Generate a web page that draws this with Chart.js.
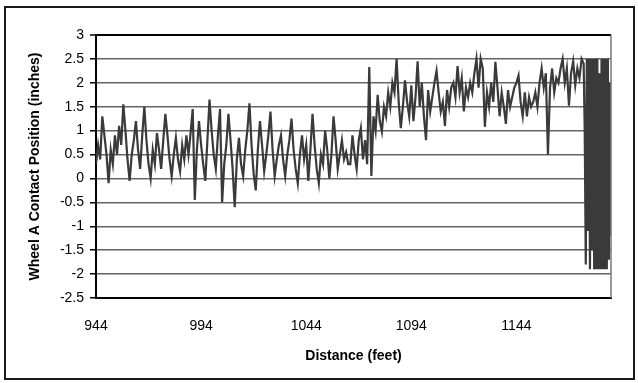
<!DOCTYPE html>
<html>
<head>
<meta charset="utf-8">
<title>Wheel A Contact Position</title>
<script src="https://cdn.jsdelivr.net/npm/chart.js@4"></script>
<style>
    html, body { margin: 0; padding: 0; background: #fff; }
    #wrap { position: relative; width: 638px; height: 383px; }
    #frame { position: absolute; left: 4px; top: 6px; width: 627px; height: 370px; border: 2px solid #1a1a1a; pointer-events: none; }
</style>
</head>
<body>
<div id="wrap">
    <canvas id="contactChart"></canvas>
    <div id="frame"></div>
</div>
<script>
// Distancia (pies) - pasos de 1 ft y luego 0.5 ft en la zona final
const distanceFt = [
    944, 945, 946, 947, 948, 949, 950, 951, 952, 953,
    954, 955, 956, 957, 958, 959, 960, 961, 962, 963,
    964, 965, 966, 967, 968, 969, 970, 971, 972, 973,
    974, 975, 976, 977, 978, 979, 980, 981, 982, 983,
    984, 985, 986, 987, 988, 989, 990, 991, 992, 993,
    994, 995, 996, 997, 998, 999, 1000, 1001, 1002, 1003,
    1004, 1005, 1006, 1007, 1008, 1009, 1010, 1011, 1012, 1013,
    1014, 1015, 1016, 1017, 1018, 1019, 1020, 1021, 1022, 1023,
    1024, 1025, 1026, 1027, 1028, 1029, 1030, 1031, 1032, 1033,
    1034, 1035, 1036, 1037, 1038, 1039, 1040, 1041, 1042, 1043,
    1044, 1045, 1046, 1047, 1048, 1049, 1050, 1051, 1052, 1053,
    1054, 1055, 1056, 1057, 1058, 1059, 1060, 1061, 1062, 1063,
    1064, 1065, 1066, 1067, 1068, 1069, 1070, 1071, 1072, 1073,
    1074, 1075, 1076, 1077, 1078, 1079, 1080, 1081, 1082, 1083,
    1084, 1085, 1086, 1087, 1088, 1089, 1090, 1091, 1092, 1093,
    1094, 1095, 1096, 1097, 1098, 1099, 1100, 1101, 1102, 1103,
    1104, 1105, 1106, 1107, 1108, 1109, 1110, 1111, 1112, 1113,
    1114, 1115, 1116, 1117, 1118, 1119, 1120, 1121, 1122, 1123,
    1124, 1125, 1126, 1127, 1128, 1129, 1130, 1131, 1132, 1133,
    1134, 1135, 1136, 1137, 1138, 1139, 1140, 1141, 1142, 1143,
    1144, 1145, 1146, 1147, 1148, 1149, 1150, 1151, 1152, 1153,
    1154, 1155, 1156, 1157, 1158, 1159, 1160, 1161, 1162, 1163,
    1164, 1165, 1166, 1167, 1168, 1169, 1170, 1171, 1172, 1173,
    1174, 1175, 1176,
    1176.5, 1177, 1177.5, 1178, 1178.5, 1179, 1179.5, 1180, 1180.5, 1181,
    1181.5, 1182, 1182.5, 1183, 1183.5, 1184, 1184.5, 1185, 1185.5, 1186,
    1186.5, 1187, 1187.5, 1188, 1188.5, 1189
];

// Posición de contacto de la rueda A (pulgadas)
const contactPos = [
    0.3, 0.7, 0.4, 1.3, 0.9, 0.5, -0.1, 0.6, 0.3, 0.9,
    0.5, 1.1, 0.7, 1.55, 1.0, 0.4, -0.05, 0.5, 0.8, 1.2,
    0.6, 0.2, 0.9, 1.5, 0.8, 0.3, 0.0, 0.6, 0.3, 0.95,
    0.6, 0.2, 0.8, 1.35, 0.9, 0.4, 0.05, 0.5, 0.85, 0.4,
    0.15, 0.7, 0.4, 0.9, 0.5, 0.95, 1.45, -0.45, 0.6, 1.2,
    0.7, 0.3, -0.05, 0.8, 1.65, 1.0, 0.5, 0.2, 0.9, 1.45,
    -0.5, 0.3, 0.7, 1.35, 0.8, 0.2, -0.6, 0.4, 0.85, 0.3,
    0.05, 0.6, 1.0, 1.57, 0.7, 0.1, -0.25, 0.6, 1.2, 0.7,
    0.15, 0.5, 0.9, 1.4, 0.6, 0.05, 0.4, 0.7, 0.9, 0.4,
    0.05, 0.5, 0.8, 1.25, 0.6, 0.2, -0.1, 0.5, 0.9, 0.4,
    0.7, -0.05, 0.6, 1.35, 0.7, 0.2, -0.1, 0.5, 0.3, 1.0,
    0.6, 0.0, 0.5, 1.3, 0.8, 0.2, 0.5, 0.8, 0.4, 0.55,
    0.3, 0.3, 0.9, 0.5, 0.2, 0.8, 1.05, 0.4, 0.8, 0.3,
    2.33, 0.05, 1.3, 1.0, 1.75, 1.2, 0.98, 1.5, 1.3, 1.8,
    1.5, 2.0, 1.8, 2.5, 1.6, 1.05, 1.5, 2.05, 1.6, 1.3,
    1.95, 1.2, 1.7, 2.45, 1.5, 2.0, 1.3, 0.8, 1.85, 1.4,
    1.7, 2.0, 2.25, 1.8, 1.4, 1.6, 1.1, 1.85, 1.5, 1.9,
    2.0, 1.7, 2.35, 1.8, 2.1, 1.4, 1.9, 1.7, 2.0, 1.8,
    2.2, 2.5, 1.9, 2.5, 2.3, 1.08, 1.8, 1.5, 2.0, 1.6,
    2.44, 1.9, 1.3, 1.8, 1.5, 1.14, 1.85, 1.5, 1.7, 1.9,
    2.0, 2.15, 1.6, 1.3, 1.8, 1.3, 1.7, 1.5, 1.6, 1.8,
    1.5, 2.0, 2.3, 1.9, 2.2, 0.5, 1.9, 2.3, 1.8, 2.1,
    2.0, 2.3, 2.5, 2.0, 2.3, 1.52, 2.2, 2.45, 1.95, 2.3,
    2.1, 2.5, 2.4,
    1.0, -1.8, 2.5, -1.1, 2.5, -1.9, 2.5, -1.5, 2.5, -1.9,
    2.5, -1.9, 2.5, -1.9, 2.2, -1.9, 2.5, -1.9, 2.5, -1.9,
    2.5, -1.9, 2.5, -1.7, 2.0, -1.2
];

// Etiquetas de los ejes
const xTickValues = [944, 994, 1044, 1094, 1144];
const yMin = -2.5;
const yMax = 3;
const yStep = 0.5;

const points = distanceFt.map((d, i) => ({ x: d, y: contactPos[i] }));

// Borde derecho gris del área de trazado
const plotBorder = {
    id: 'plotBorder',
    afterDraw(chart) {
        const { ctx, chartArea } = chart;
        ctx.save();
        ctx.strokeStyle = '#777';
        ctx.lineWidth = 1.5;
        ctx.beginPath();
        ctx.moveTo(chartArea.right, chartArea.top);
        ctx.lineTo(chartArea.right, chartArea.bottom);
        ctx.stroke();
        ctx.restore();
    }
};

const ctx = document.getElementById('contactChart').getContext('2d');
new Chart(ctx, {
    type: 'line',
    data: {
        datasets: [{
            data: points,
            borderColor: '#3a3a3a',
            borderWidth: 2.2,
            pointRadius: 0,
            tension: 0,
            fill: false
        }]
    },
    options: {
        responsive: true,
        maintainAspectRatio: false,
        animation: false,
        parsing: false,
        layout: {
            padding: { left: 0, top: 35, right: 27, bottom: 0 }
        },
        plugins: {
            legend: { display: false },
            tooltip: { enabled: false }
        },
        scales: {
            x: {
                type: 'linear',
                min: 944,
                max: 1189,
                afterBuildTicks: (scale) => {
                    scale.ticks = xTickValues.map(v => ({ value: v }));
                },
                afterFit: (scale) => { scale.height = 85; },
                grid: { display: false, drawTicks: false },
                border: { display: true, color: '#000', width: 2 },
                ticks: {
                    color: '#000',
                    padding: 20,
                    maxRotation: 0,
                    autoSkip: false,
                    font: { family: 'Liberation Sans', size: 14 },
                    callback: (v) => String(v)
                },
                title: {
                    display: true,
                    text: 'Distance (feet)',
                    color: '#000',
                    font: { family: 'Liberation Sans', size: 14, weight: 'bold' },
                    padding: { top: 0, bottom: 18 }
                }
            },
            y: {
                min: yMin,
                max: yMax,
                afterFit: (scale) => { scale.width = 96; },
                ticks: {
                    stepSize: yStep,
                    color: '#000',
                    padding: 6,
                    font: { family: 'Liberation Sans', size: 14 },
                    callback: (v) => String(Math.round(v * 10) / 10)
                },
                grid: {
                    color: (c) => c.tick && c.tick.value === yMax ? '#000' : '#666',
                    lineWidth: (c) => c.tick && c.tick.value === yMax ? 2 : 1.5,
                    tickColor: '#000',
                    tickLength: 6,
                    tickWidth: 1.5
                },
                border: { display: true, color: '#000', width: 2 },
                title: {
                    display: true,
                    text: 'Wheel A Contact Position (inches)',
                    color: '#000',
                    font: { family: 'Liberation Sans', size: 14, weight: 'bold' },
                    padding: { top: 27, bottom: 0 }
                }
            }
        }
    },
    plugins: [plotBorder]
});
</script>
</body>
</html>
